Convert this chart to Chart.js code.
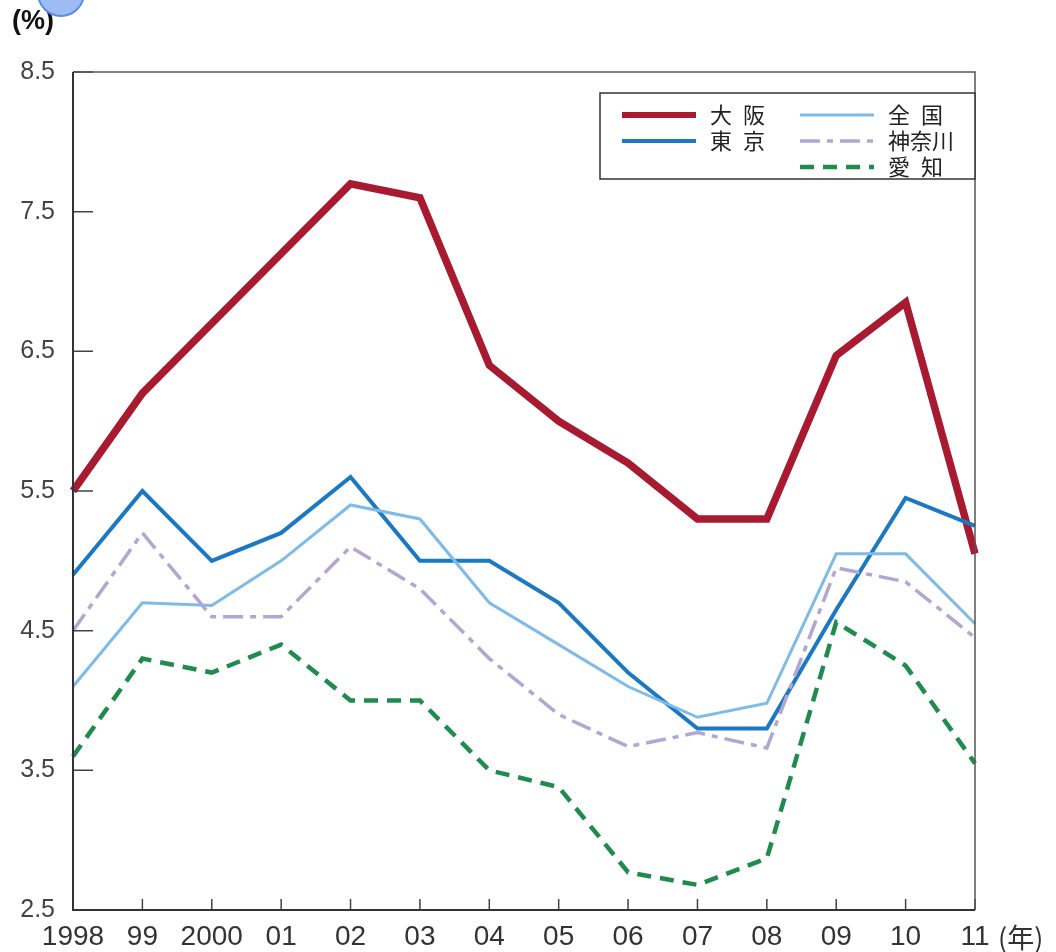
<!DOCTYPE html>
<html>
<head>
<meta charset="utf-8">
<script src="https://cdn.jsdelivr.net/npm/chart.js@4.4.1/dist/chart.umd.min.js"></script>
<style>
    body { margin: 0; background: #fff; }
    #wrap { position: relative; width: 1056px; height: 952px; }
    #dot {
        position: absolute; left: 37px; top: -31px; width: 44px; height: 44px;
        border-radius: 50%; background: #9dbcf4; border: 2px solid #5c8be0;
    }
</style>
</head>
<body>
<div id="wrap">
    <canvas id="chart"></canvas>
    <div id="dot"></div>
</div>
<script>
// years on the x axis
const years = ['1998', '99', '2000', '01', '02', '03', '04', '05', '06', '07', '08', '09', '10', '11']
const yTickValues = [2.5, 3.5, 4.5, 5.5, 6.5, 7.5, 8.5]

// unemployment rate (%)
const osaka = [5.5, 6.2, 6.7, 7.2, 7.7, 7.6, 6.4, 6.0, 5.7, 5.3, 5.3, 6.47, 6.85, 5.05]
const tokyo = [4.9, 5.5, 5.0, 5.2, 5.6, 5.0, 5.0, 4.7, 4.2, 3.8, 3.8, 4.65, 5.45, 5.25]
const zenkoku = [4.1, 4.7, 4.68, 5.0, 5.4, 5.3, 4.7, 4.4, 4.1, 3.88, 3.98, 5.05, 5.05, 4.55]
const kanagawa = [4.5, 5.2, 4.6, 4.6, 5.1, 4.8, 4.3, 3.9, 3.67, 3.77, 3.66, 4.95, 4.85, 4.45]
const aichi = [3.6, 4.3, 4.2, 4.4, 4.0, 4.0, 3.5, 3.38, 2.77, 2.68, 2.87, 4.56, 4.25, 3.55]

const seriesNames = ['大阪', '東京', '全国', '神奈川', '愛知']

const colors = {
    osaka: '#a81a30',
    tokyo: '#1b78c2',
    zenkoku: '#7ebbe9',
    kanagawa: '#b2a6d2',
    aichi: '#1f8b4d',
}

const datasets = [
    {
        label: seriesNames[4],
        data: aichi,
        borderColor: colors.aichi,
        borderWidth: 4.5,
        borderDash: [14, 9],
    },
    {
        label: seriesNames[3],
        data: kanagawa,
        borderColor: colors.kanagawa,
        borderWidth: 3.5,
        borderDash: [20, 7, 6, 7],
    },
    {
        label: seriesNames[2],
        data: zenkoku,
        borderColor: colors.zenkoku,
        borderWidth: 3,
    },
    {
        label: seriesNames[1],
        data: tokyo,
        borderColor: colors.tokyo,
        borderWidth: 4,
    },
    {
        label: seriesNames[0],
        data: osaka,
        borderColor: colors.osaka,
        borderWidth: 7.5,
    },
]
datasets.forEach((d) => {
    d.pointRadius = 0
    d.tension = 0
    d.fill = false
    d.borderJoinStyle = 'miter'
})

// frame, inner tick marks, legend box and unit labels
const decorations = {
    id: 'decorations',
    afterDraw(chart) {
        const { ctx, chartArea: a, scales } = chart
        const x = scales.x
        const y = scales.y
        ctx.save()

        // tick marks pointing into the plot
        ctx.strokeStyle = '#444'
        ctx.lineWidth = 1.5
        ctx.beginPath()
        years.forEach((_, i) => {
            const px = x.getPixelForValue(i)
            ctx.moveTo(px, a.bottom)
            ctx.lineTo(px, a.bottom - 11)
        })
        yTickValues.forEach((v) => {
            const py = y.getPixelForValue(v)
            ctx.moveTo(a.left, py)
            ctx.lineTo(a.left + 20, py)
        })
        ctx.stroke()

        // frame
        ctx.strokeStyle = '#555'
        ctx.lineWidth = 1.5
        ctx.beginPath()
        ctx.moveTo(a.left, a.top)
        ctx.lineTo(a.right, a.top)
        ctx.lineTo(a.right, a.bottom)
        ctx.stroke()
        ctx.strokeStyle = '#333'
        ctx.lineWidth = 2
        ctx.beginPath()
        ctx.moveTo(a.left, a.top)
        ctx.lineTo(a.left, a.bottom)
        ctx.lineTo(a.right, a.bottom)
        ctx.stroke()

        // legend
        const box = { left: 600, top: 93, bottom: 179 }
        ctx.fillStyle = '#fff'
        ctx.fillRect(box.left, box.top, a.right - box.left, box.bottom - box.top)
        ctx.strokeStyle = '#333'
        ctx.lineWidth = 1.5
        ctx.strokeRect(box.left, box.top, a.right - box.left, box.bottom - box.top)

        const items = [
            { ds: 4, x: 622, y: 115 },
            { ds: 3, x: 622, y: 141 },
            { ds: 2, x: 800, y: 115 },
            { ds: 1, x: 800, y: 141 },
            { ds: 0, x: 800, y: 167 },
        ]
        ctx.font = '22px "Noto Sans CJK JP"'
        ctx.textBaseline = 'middle'
        ctx.textAlign = 'left'
        items.forEach((it) => {
            const d = chart.data.datasets[it.ds]
            ctx.strokeStyle = d.borderColor
            ctx.lineWidth = Math.min(d.borderWidth, 6)
            ctx.setLineDash(d.borderDash || [])
            ctx.beginPath()
            ctx.moveTo(it.x, it.y)
            ctx.lineTo(it.x + 74, it.y)
            ctx.stroke()
            ctx.setLineDash([])
            ctx.fillStyle = '#222'
            const name = d.label.length === 2 ? d.label.split('').join('\u2002') : d.label
            ctx.fillText(name, it.x + 88, it.y)
        })

        // units
        ctx.fillStyle = '#111'
        ctx.font = 'bold 27px "Liberation Sans", Arial, sans-serif'
        ctx.textAlign = 'left'
        ctx.textBaseline = 'middle'
        ctx.fillText('(%)', 12, 22)
        ctx.font = '27px "Noto Sans CJK JP"'
        ctx.fillStyle = '#333'
        ctx.fillText('(年)', 998, 938)
        ctx.restore()
    },
}

const ctx = document.getElementById('chart').getContext('2d')
new Chart(ctx, {
    type: 'line',
    data: { labels: years, datasets: datasets },
    plugins: [decorations],
    options: {
        responsive: true,
        maintainAspectRatio: false,
        animation: false,
        events: [],
        layout: { padding: { top: 72, right: 81, bottom: 0, left: 0 } },
        plugins: {
            legend: { display: false },
            tooltip: { enabled: false },
        },
        scales: {
            x: {
                type: 'category',
                offset: false,
                grid: { display: false, drawTicks: false },
                border: { display: false },
                ticks: {
                    autoSkip: false,
                    maxRotation: 0,
                    padding: 10,
                    color: '#333',
                    font: { family: '"Liberation Sans", Arial, sans-serif', size: 28 },
                },
                afterFit: (scale) => {
                    scale.height = 42
                },
            },
            y: {
                min: 2.5,
                max: 8.5,
                grid: { display: false, drawTicks: false },
                border: { display: false },
                ticks: {
                    padding: 18,
                    color: '#444',
                    font: { family: '"Liberation Sans", Arial, sans-serif', size: 25 },
                    callback: (v) => v.toFixed(1),
                },
                afterBuildTicks: (scale) => {
                    scale.ticks = yTickValues.map((v) => ({ value: v }))
                },
                afterFit: (scale) => {
                    scale.width = 73
                },
            },
        },
    },
})
</script>
</body>
</html>
